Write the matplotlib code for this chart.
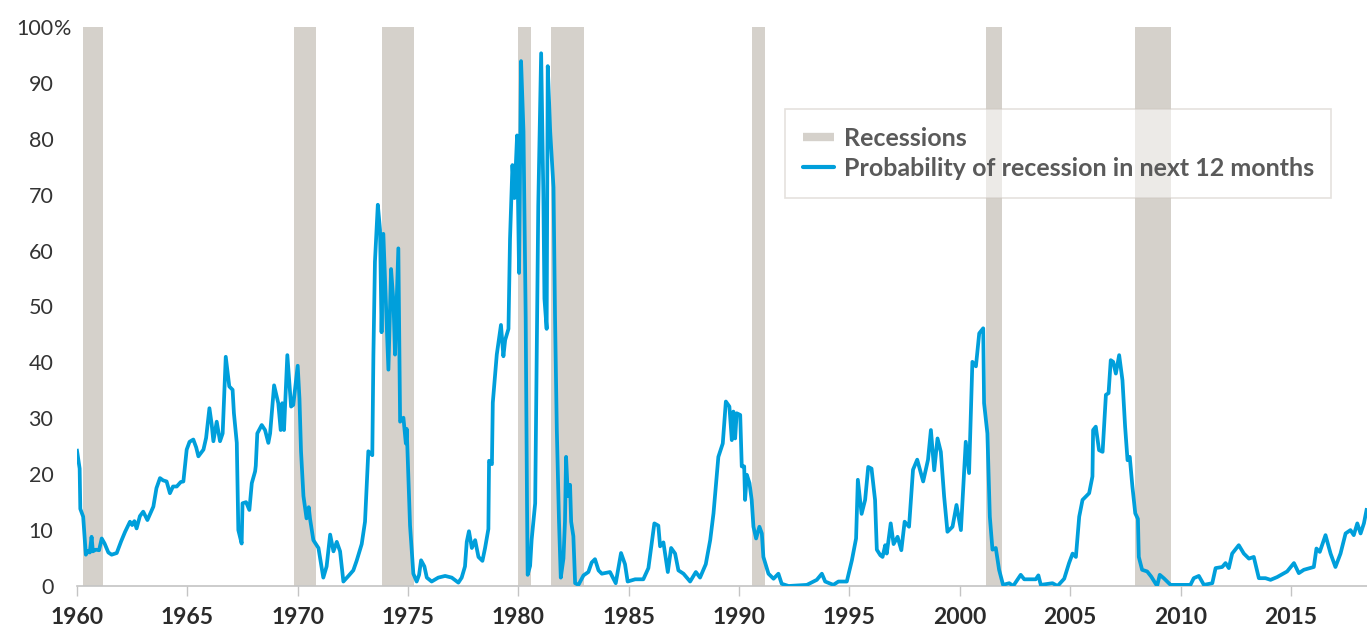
import matplotlib
matplotlib.use("Agg")
import matplotlib.pyplot as plt
from matplotlib.lines import Line2D

# recession periods (decimal years)
rec_start = [1960.27, 1969.84, 1973.81, 1980.00, 1981.48, 1990.57, 2001.17, 2007.94]
rec_end = [1961.16, 1970.84, 1975.26, 1980.56, 1982.95, 1991.16, 2001.90, 2009.56]

# probability of recession in next 12 months (%)
dates = [
    1960.00, 1960.12, 1960.15, 1960.28, 1960.40, 1960.50, 1960.58, 1960.66, 1960.72, 1960.85,
    1961.00, 1961.12, 1961.25, 1961.42, 1961.57, 1961.80, 1962.00, 1962.18, 1962.40, 1962.50,
    1962.60, 1962.70, 1962.85, 1963.00, 1963.19, 1963.46, 1963.60, 1963.76, 1963.90, 1964.06,
    1964.21, 1964.35, 1964.52, 1964.70, 1964.82, 1964.97, 1965.10, 1965.27, 1965.40, 1965.50,
    1965.73, 1965.85, 1966.00, 1966.10, 1966.18, 1966.33, 1966.48, 1966.60, 1966.74, 1966.90,
    1967.05, 1967.11, 1967.24, 1967.31, 1967.46, 1967.50, 1967.66, 1967.81, 1967.92, 1968.07,
    1968.10, 1968.17, 1968.37, 1968.52, 1968.67, 1968.75, 1968.93, 1969.12, 1969.23, 1969.30,
    1969.38, 1969.53, 1969.70, 1969.80, 1970.00, 1970.08, 1970.15, 1970.26, 1970.40, 1970.50,
    1970.56, 1970.71, 1970.94, 1971.16, 1971.31, 1971.47, 1971.62, 1971.77, 1971.92, 1972.07,
    1972.30, 1972.52, 1972.67, 1972.90, 1973.05, 1973.20, 1973.38, 1973.43, 1973.50, 1973.63,
    1973.73, 1973.80, 1973.88, 1973.96, 1974.11, 1974.23, 1974.34, 1974.41, 1974.56, 1974.64,
    1974.79, 1974.90, 1974.94, 1975.09, 1975.24, 1975.39, 1975.50, 1975.59, 1975.74, 1975.85,
    1976.07, 1976.37, 1976.68, 1976.98, 1977.28, 1977.43, 1977.58, 1977.66, 1977.76, 1977.89,
    1978.04, 1978.19, 1978.37, 1978.49, 1978.64, 1978.67, 1978.80, 1978.84, 1979.02, 1979.21,
    1979.32, 1979.40, 1979.55, 1979.62, 1979.73, 1979.82, 1979.94, 1980.03, 1980.12, 1980.23,
    1980.33, 1980.39, 1980.42, 1980.53, 1980.60, 1980.76, 1980.83, 1980.90, 1981.03, 1981.13,
    1981.18, 1981.28, 1981.33, 1981.44, 1981.59, 1981.66, 1981.74, 1981.84, 1981.92, 1982.04,
    1982.11, 1982.16, 1982.24, 1982.34, 1982.39, 1982.49, 1982.57, 1982.72, 1982.95, 1983.17,
    1983.32, 1983.47, 1983.63, 1983.78, 1984.15, 1984.41, 1984.65, 1984.83, 1984.95, 1985.29,
    1985.66, 1985.89, 1986.16, 1986.34, 1986.42, 1986.57, 1986.77, 1986.92, 1987.10, 1987.25,
    1987.48, 1987.78, 1988.04, 1988.23, 1988.49, 1988.69, 1988.84, 1989.06, 1989.26, 1989.40,
    1989.56, 1989.67, 1989.74, 1989.82, 1989.89, 1990.05, 1990.12, 1990.23, 1990.27, 1990.35,
    1990.47, 1990.57, 1990.65, 1990.77, 1990.92, 1991.03, 1991.10, 1991.33, 1991.56, 1991.78,
    1991.93, 1992.24, 1993.07, 1993.52, 1993.75, 1993.90, 1994.27, 1994.50, 1994.88, 1995.11,
    1995.30, 1995.38, 1995.55, 1995.71, 1995.85, 1996.00, 1996.16, 1996.24, 1996.40, 1996.50,
    1996.62, 1996.69, 1996.87, 1997.00, 1997.18, 1997.35, 1997.50, 1997.70, 1997.88, 1998.07,
    1998.34, 1998.56, 1998.69, 1998.84, 1998.99, 1999.14, 1999.29, 1999.44, 1999.67, 1999.85,
    2000.05, 2000.27, 2000.42, 2000.57, 2000.73, 2000.88, 2001.06, 2001.10, 2001.25, 2001.36,
    2001.48, 2001.63, 2001.78, 2001.96, 2002.24, 2002.42, 2002.76, 2002.92, 2003.44, 2003.56,
    2003.67, 2004.20, 2004.43, 2004.73, 2004.95, 2005.11, 2005.26, 2005.41, 2005.56, 2005.86,
    2006.01, 2006.04, 2006.16, 2006.31, 2006.47, 2006.62, 2006.74, 2006.84, 2006.95, 2007.07,
    2007.22, 2007.37, 2007.49, 2007.60, 2007.70, 2007.82, 2007.95, 2008.07, 2008.11, 2008.26,
    2008.49, 2008.67, 2008.94, 2009.06, 2009.24, 2009.55, 2010.45, 2010.60, 2010.83, 2011.06,
    2011.44, 2011.59, 2011.89, 2012.04, 2012.19, 2012.34, 2012.64, 2012.87, 2013.10, 2013.32,
    2013.55, 2013.85, 2014.08, 2014.38, 2014.83, 2015.14, 2015.36, 2015.59, 2016.04, 2016.16,
    2016.31, 2016.57, 2016.80, 2017.02, 2017.25, 2017.48, 2017.70, 2017.85, 2018.01, 2018.16,
    2018.31, 2018.43,
]
prob = [
    24.2, 21.0, 13.8, 12.4, 5.6, 6.3, 6.0, 8.8, 6.2, 6.5,
    6.4, 8.5, 7.6, 6.0, 5.6, 5.9, 8.0, 9.7, 11.5, 10.9,
    11.6, 10.3, 12.5, 13.3, 11.8, 14.2, 17.5, 19.3, 18.9, 18.7,
    16.6, 17.8, 17.8, 18.6, 18.7, 24.4, 25.8, 26.2, 24.8, 23.2,
    24.4, 26.5, 31.8, 29.0, 25.9, 29.4, 25.9, 27.3, 41.0, 35.7,
    35.1, 30.9, 25.6, 10.0, 7.6, 14.8, 15.0, 13.6, 18.4, 20.5,
    21.5, 27.3, 28.8, 27.9, 25.6, 27.3, 35.9, 32.7, 27.9, 32.7,
    27.9, 41.3, 32.1, 32.4, 39.4, 33.5, 24.1, 16.1, 12.1, 14.1,
    12.0, 8.2, 6.8, 1.5, 3.5, 9.2, 6.2, 7.9, 6.2, 0.8,
    1.8, 2.8, 4.5, 7.5, 11.5, 24.1, 23.4, 41.4, 58.0, 68.2,
    63.7, 45.4, 63.0, 54.7, 38.7, 56.7, 50.7, 41.4, 60.4, 29.4,
    30.1, 25.5, 28.1, 10.8, 2.2, 0.8, 2.0, 4.6, 3.5, 1.5,
    0.8, 1.5, 1.8, 1.5, 0.6, 1.5, 3.5, 7.9, 9.8, 6.8,
    8.2, 5.2, 4.5, 6.8, 10.2, 22.4, 21.8, 32.8, 41.4, 46.7,
    41.1, 44.0, 46.0, 62.1, 75.3, 69.4, 80.6, 56.0, 93.9, 81.3,
    48.0, 14.8, 2.0, 3.6, 8.3, 14.8, 41.4, 68.0, 95.3, 70.0,
    51.4, 46.0, 93.0, 81.3, 71.3, 48.0, 28.0, 11.5, 1.5, 4.9,
    11.5, 23.1, 16.1, 18.1, 11.5, 8.9, 0.5, 0.2, 1.9, 2.5,
    4.2, 4.8, 2.8, 2.2, 2.5, 0.5, 5.9, 3.9, 0.8, 1.2,
    1.2, 3.2, 11.2, 10.8, 7.1, 7.8, 2.5, 6.8, 5.8, 2.8,
    2.2, 0.8, 2.5, 1.5, 3.9, 8.2, 13.0, 23.1, 25.5, 33.0,
    32.1, 26.1, 31.2, 26.4, 30.9, 30.6, 21.4, 21.4, 15.4, 19.9,
    18.4, 15.4, 10.6, 8.5, 10.6, 9.4, 5.2, 2.2, 1.3, 2.2,
    0.4, 0.0, 0.2, 1.1, 2.2, 0.8, 0.2, 0.8, 0.8, 4.6,
    8.5, 19.0, 12.9, 15.4, 21.3, 21.0, 15.4, 6.5, 5.5, 5.2,
    7.3, 5.8, 11.2, 7.5, 8.8, 6.4, 11.5, 10.6, 20.8, 22.6,
    18.7, 22.6, 27.9, 20.7, 26.4, 24.0, 16.0, 9.7, 10.6, 14.5,
    10.0, 25.8, 20.2, 40.1, 39.3, 45.2, 46.1, 32.7, 27.3, 12.4,
    6.5, 6.8, 2.9, 0.2, 0.5, 0.0, 2.0, 1.2, 1.2, 1.9,
    0.2, 0.5, 0.0, 1.3, 4.1, 5.8, 5.2, 12.4, 15.4, 16.6,
    19.6, 27.9, 28.5, 24.3, 24.0, 34.2, 34.5, 40.4, 40.1, 38.0,
    41.3, 36.8, 28.5, 22.5, 23.1, 17.8, 13.0, 12.0, 5.2, 2.9,
    2.6, 1.7, 0.0, 2.0, 1.4, 0.2, 0.2, 1.4, 1.8, 0.2,
    0.5, 3.2, 3.4, 4.1, 3.2, 5.8, 7.3, 5.8, 4.9, 5.2,
    1.4, 1.4, 1.1, 1.6, 2.6, 4.1, 2.3, 2.9, 3.4, 6.7,
    6.1, 9.1, 5.8, 3.4, 5.8, 9.4, 10.0, 9.1, 11.2, 9.4,
    11.2, 13.6,
]

x_ticks = list(range(1960, 2016, 5))
y_ticks = list(range(0, 101, 10))

plt.rcParams['font.family'] = ['Lato', 'DejaVu Sans']

fig = plt.figure(figsize=(13.67, 6.27), dpi=100)
ax = fig.add_axes([77 / 1367, 1 - 586 / 627, 1 - 77 / 1367, (586 - 27) / 627])

band_color = '#d5d1cb'
line_color = '#009fdb'

for s, e in zip(rec_start, rec_end):
    ax.axvspan(s, e, color=band_color, lw=0, zorder=1)

ax.plot(dates, prob, color=line_color, lw=2.7, zorder=3, solid_joinstyle='round')

ax.set_xlim(1960, 2018.45)
ax.set_ylim(0, 100)

for side in ['top', 'right', 'left']:
    ax.spines[side].set_visible(False)
ax.spines['bottom'].set_color('#c4c4c4')
ax.spines['bottom'].set_linewidth(1.2)
ax.spines['bottom'].set_zorder(2)

ax.set_xticks(x_ticks)
ax.set_xticklabels([str(t) for t in x_ticks], fontsize=16.5, fontweight='bold', color='#2b2b2b')
ax.tick_params(axis='x', direction='out', length=7, width=1, color='#c4c4c4', pad=8)

ax.set_yticks(y_ticks)
ax.set_yticklabels([str(t) for t in y_ticks], fontsize=15.5, color='#333333')
ax.tick_params(axis='y', length=0, pad=17)
ax.annotate('%', xy=(0, 100), xycoords=('axes fraction', 'data'), xytext=(-16.5, 0),
            textcoords='offset points', ha='left', va='center_baseline', fontsize=15.5,
            color='#333333')

handles = [
    Line2D([0], [0], color=band_color, lw=6, solid_capstyle='butt'),
    Line2D([0], [0], color=line_color, lw=3, solid_capstyle='round'),
]
labels = ['Recessions', 'Probability of recession in next 12 months']
leg = ax.legend(handles, labels, loc='upper left', bbox_to_anchor=(785 / 1367, 1 - 109 / 627),
                bbox_transform=fig.transFigure, borderaxespad=0, frameon=True, fancybox=False,
                framealpha=0.55, edgecolor='#cfc9c2', facecolor='white',
                prop={'size': 18, 'weight': 'bold'}, handlelength=1.25,
                handletextpad=0.4, labelspacing=0.3, borderpad=0.7)
leg.get_frame().set_linewidth(1.2)
for t in leg.get_texts():
    t.set_color('#5a5a5a')

fig.savefig('out.png', dpi=100)
